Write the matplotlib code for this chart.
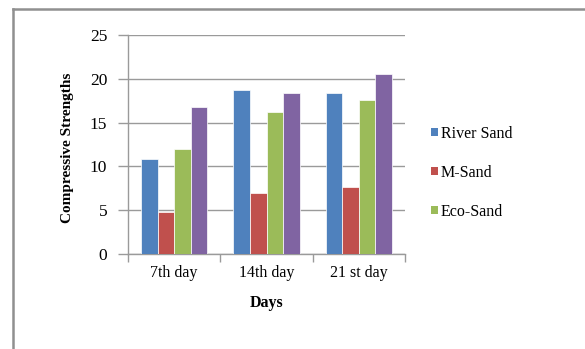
import matplotlib
matplotlib.use("Agg")
import matplotlib.pyplot as plt
from matplotlib.lines import Line2D
from matplotlib.patches import Patch
import numpy as np

plt.rcParams['font.family'] = ['Liberation Serif', 'DejaVu Serif']

days = ["7th day", "14th day", "21 st day"]
river_sand = [10.8, 18.7, 18.4]
m_sand = [4.8, 7.0, 7.7]
eco_sand = [12.0, 16.2, 17.6]
mix_four = [16.8, 18.4, 20.5]
y_ticks = [0, 5, 10, 15, 20, 25]

series = [
    ("River Sand", river_sand, "#4F81BD"),
    ("M-Sand", m_sand, "#C0504D"),
    ("Eco-Sand", eco_sand, "#9BBB59"),
    (None, mix_four, "#8064A2"),
]

W, H = 585, 349
fig = plt.figure(figsize=(W / 100, H / 100), dpi=100)
ax = fig.add_axes([128 / W, 1 - 254 / H, (405 - 128) / W, (254 - 35) / H])

x = np.arange(len(days))
bw = 0.18
n = len(series)
for i, (name, vals, col) in enumerate(series):
    offs = (i - (n - 1) / 2) * bw
    ax.bar(x + offs, vals, width=bw, color=col, edgecolor="white",
           linewidth=0.5, zorder=3)

grid_c = "#9a9a9a"
ax.set_ylim(0, 25)
ax.set_yticks(y_ticks)
ax.set_yticklabels([str(v) for v in y_ticks], fontsize=12.5)
ax.yaxis.grid(True, color=grid_c, linewidth=1.0, zorder=0)
ax.set_xlim(-0.5, len(days) - 0.5)
ax.set_xticks(np.arange(len(days) + 1) - 0.5)
ax.set_xticklabels([])
ax.set_xticks(x, minor=True)
ax.set_xticklabels(days, minor=True, fontsize=11.5)
ax.tick_params(axis="x", which="minor", length=0, pad=8)
ax.tick_params(axis="x", which="major", length=6, color=grid_c, width=1)
ax.tick_params(axis="y", length=7, color=grid_c, width=1, pad=8)

for s in ("top", "right"):
    ax.spines[s].set_visible(False)
for s in ("left", "bottom"):
    ax.spines[s].set_color(grid_c)
    ax.spines[s].set_linewidth(1.0)

ax.set_xlabel("Days", fontsize=11.5, fontweight="bold", labelpad=10)
fig.text(68 / W, 1 - 148 / H, "Compressive Strengths", rotation=90,
         fontsize=11, fontweight="bold", ha="center", va="center")

handles = [Patch(facecolor=c, edgecolor="none") for name, _, c in series if name]
labels = [name for name, _, _ in series if name]
fig.legend(handles, labels, loc="center left",
           bbox_to_anchor=(420 / W, 1 - 173 / H), frameon=False,
           fontsize=11.5, handlelength=0.4, handleheight=0.4,
           handletextpad=0.2, labelspacing=1.45, borderpad=0.2)

frame_c = "#909090"
fig.add_artist(Line2D([13 / W, 13 / W], [0, 1 - 9 / H], color=frame_c,
                      linewidth=1.8, transform=fig.transFigure))
fig.add_artist(Line2D([13 / W, 1], [1 - 9 / H, 1 - 9 / H], color=frame_c,
                      linewidth=1.8, transform=fig.transFigure))

fig.savefig("out.png", dpi=100)
